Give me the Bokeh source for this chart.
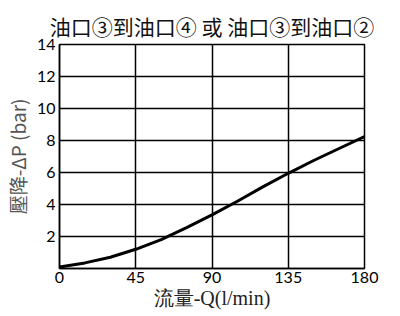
from bokeh.plotting import figure
from bokeh.embed import file_html
from bokeh.resources import INLINE
from bokeh.models import FixedTicker, Range1d

flow = [0, 15, 30, 45, 60, 75, 90, 105, 120, 135, 150, 165, 180]
dp = [0.1, 0.35, 0.7, 1.2, 1.8, 2.55, 3.35, 4.2, 5.1, 5.95, 6.75, 7.5, 8.25]
x_ticks = [0, 45, 90, 135, 180]
y_ticks = [0, 2, 4, 6, 8, 10, 12, 14]
title_text = "油口③到油口④ 或 油口③到油口②"
x_label = "流量-Q(l/min)"
y_label = "壓降-ΔP (bar)"

p = figure(width=400, height=316, output_backend="svg", toolbar_location=None,
           x_range=Range1d(0, 180), y_range=Range1d(0, 14),
           min_border_left=58, min_border_right=36, min_border_top=44, min_border_bottom=48)
p.title.text = title_text
p.title.align = "center"
p.title.text_font = "Noto Sans CJK TC"
p.title.text_font_size = "21px"
p.title.text_font_style = "normal"
p.title.text_color = "#111111"
p.title.standoff = 8

p.line(flow, dp, line_width=3, color="black")

for ax in (p.xaxis, p.yaxis):
    ax.major_tick_out = 0
    ax.major_tick_in = 0
    ax.minor_tick_out = 0
    ax.minor_tick_in = 0
    ax.axis_line_color = "black"
    ax.axis_line_width = 1.5
    ax.major_label_text_font = "Lato"
    ax.major_label_text_font_size = "16px"
    ax.major_label_text_color = "black"

p.xaxis.ticker = FixedTicker(ticks=x_ticks)
p.yaxis.ticker = FixedTicker(ticks=y_ticks)
p.yaxis.major_label_overrides = {0: ""}
p.xaxis.major_label_standoff = 3
p.yaxis.major_label_standoff = 4

p.xaxis.axis_label = x_label
p.xaxis.axis_label_text_font = "Liberation Serif"
p.xaxis.axis_label_text_font_size = "20px"
p.xaxis.axis_label_text_font_style = "normal"
p.xaxis.axis_label_text_color = "#222222"
p.xaxis.axis_label_standoff = 1

p.yaxis.axis_label = y_label
p.yaxis.axis_label_text_font = "Noto Sans CJK TC"
p.yaxis.axis_label_text_font_size = "19px"
p.yaxis.axis_label_text_font_style = "normal"
p.yaxis.axis_label_text_color = "#555555"
p.yaxis.axis_label_standoff = 3

p.xgrid.grid_line_color = "black"
p.ygrid.grid_line_color = "black"
p.xgrid.grid_line_width = 1.5
p.ygrid.grid_line_width = 1.5
p.grid.grid_line_alpha = 1

p.outline_line_color = "black"
p.outline_line_width = 1.5
p.outline_line_alpha = 1

open("out.html", "w").write(file_html(p, INLINE))
